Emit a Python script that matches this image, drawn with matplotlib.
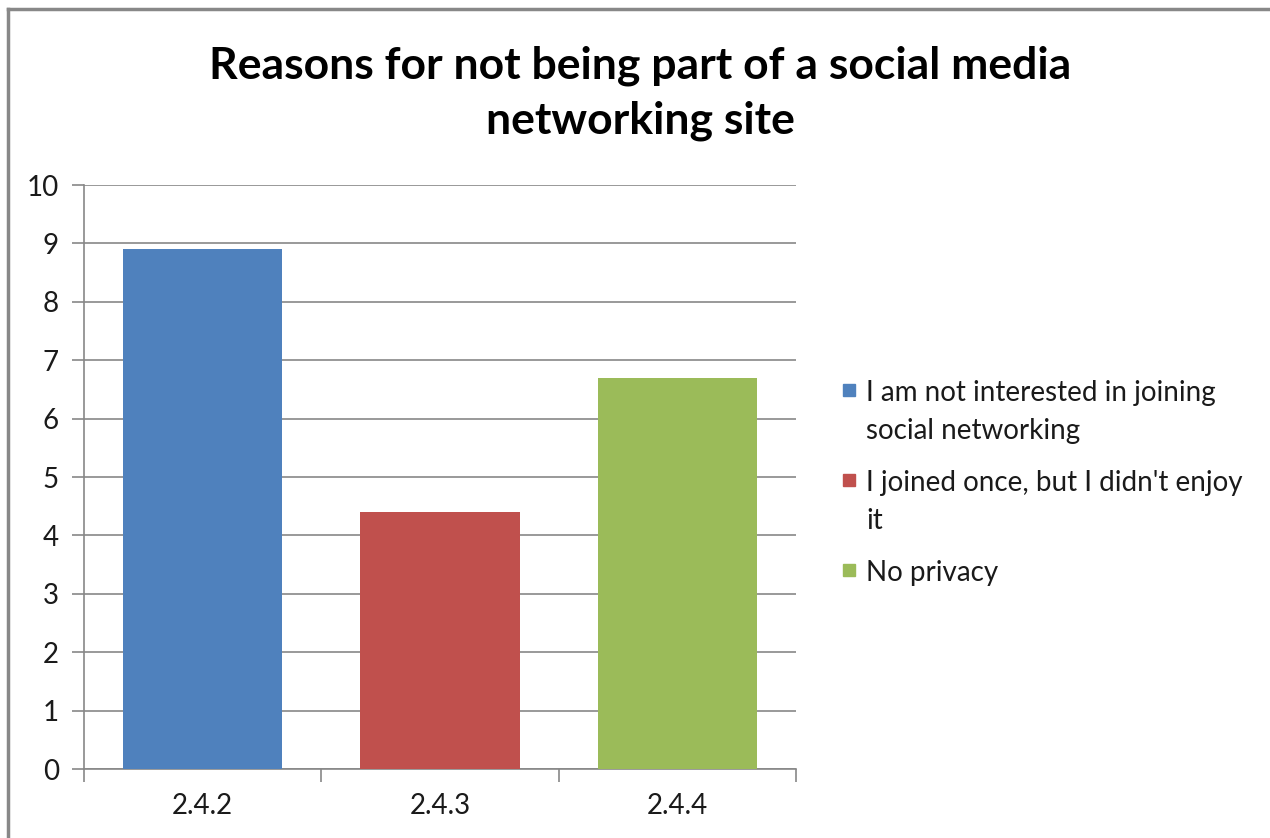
import matplotlib.pyplot as plt
from matplotlib.lines import Line2D
from matplotlib.patches import Rectangle

plt.rcParams['font.family'] = ['Lato', 'DejaVu Sans']

categories = ['2.4.2', '2.4.3', '2.4.4']
values = [8.9, 4.4, 6.7]
series_labels = ['I am not interested in joining\nsocial networking',
                 "I joined once, but I didn't enjoy\nit",
                 'No privacy']
colors = ['#4F81BD', '#C0504D', '#9BBB59']
grid_color = '#878787'

W, H = 1270, 838
fig = plt.figure(figsize=(W / 100, H / 100), dpi=100)
ax = fig.add_axes([84 / W, 1 - 769 / H, (796 - 84) / W, (769 - 185) / H])

xs = range(len(categories))
ax.bar(xs, values, width=0.67, color=colors, zorder=3)

ax.set_xlim(-0.5, len(categories) - 0.5)
ax.set_ylim(0, 10)
ax.set_yticks(range(0, 11))
ax.set_xticks(list(xs))
ax.set_xticklabels(categories)
ax.set_xticks([i - 0.5 for i in range(len(categories) + 1)], minor=True)
ax.yaxis.grid(True, color=grid_color, linewidth=1.2, zorder=0)
ax.tick_params(axis='y', direction='out', length=9, width=1.2, color=grid_color,
               labelsize=20, labelcolor='#1a1a1a', pad=9)
ax.tick_params(axis='x', which='major', length=0, labelsize=20,
               labelcolor='#1a1a1a', pad=17)
ax.tick_params(axis='x', which='minor', direction='out', length=9, width=1.2,
               color=grid_color)
for side in ('top', 'right'):
    ax.spines[side].set_visible(False)
for side in ('left', 'bottom'):
    ax.spines[side].set_color(grid_color)
    ax.spines[side].set_linewidth(1.2)

fig.text(640 / W, 1 - 93 / H,
         'Reasons for not being part of a social media\nnetworking site',
         ha='center', va='center', fontsize=32, fontweight='bold',
         color='black', linespacing=1.45)

# legend, drawn by hand so each swatch sits on the first text line
y_tops = [390, 480, 570]
for lab, col, yc in zip(series_labels, colors, y_tops):
    fig.patches.append(Rectangle((843 / W, 1 - (yc + 6) / H), 12 / W, 12 / H,
                                 transform=fig.transFigure, color=col))
    fig.text(866 / W, 1 - (yc - 10) / H, lab, ha='left', va='top',
             fontsize=20, color='#1a1a1a', linespacing=1.55)

# outer frame of the chart area
fig.add_artist(Line2D([8 / W, 1], [1 - 9 / H, 1 - 9 / H], transform=fig.transFigure,
                      color='#888888', linewidth=2.5))
fig.add_artist(Line2D([8 / W, 8 / W], [0, 1 - 9 / H], transform=fig.transFigure,
                      color='#888888', linewidth=2.5))

fig.savefig('out.png', dpi=100)
